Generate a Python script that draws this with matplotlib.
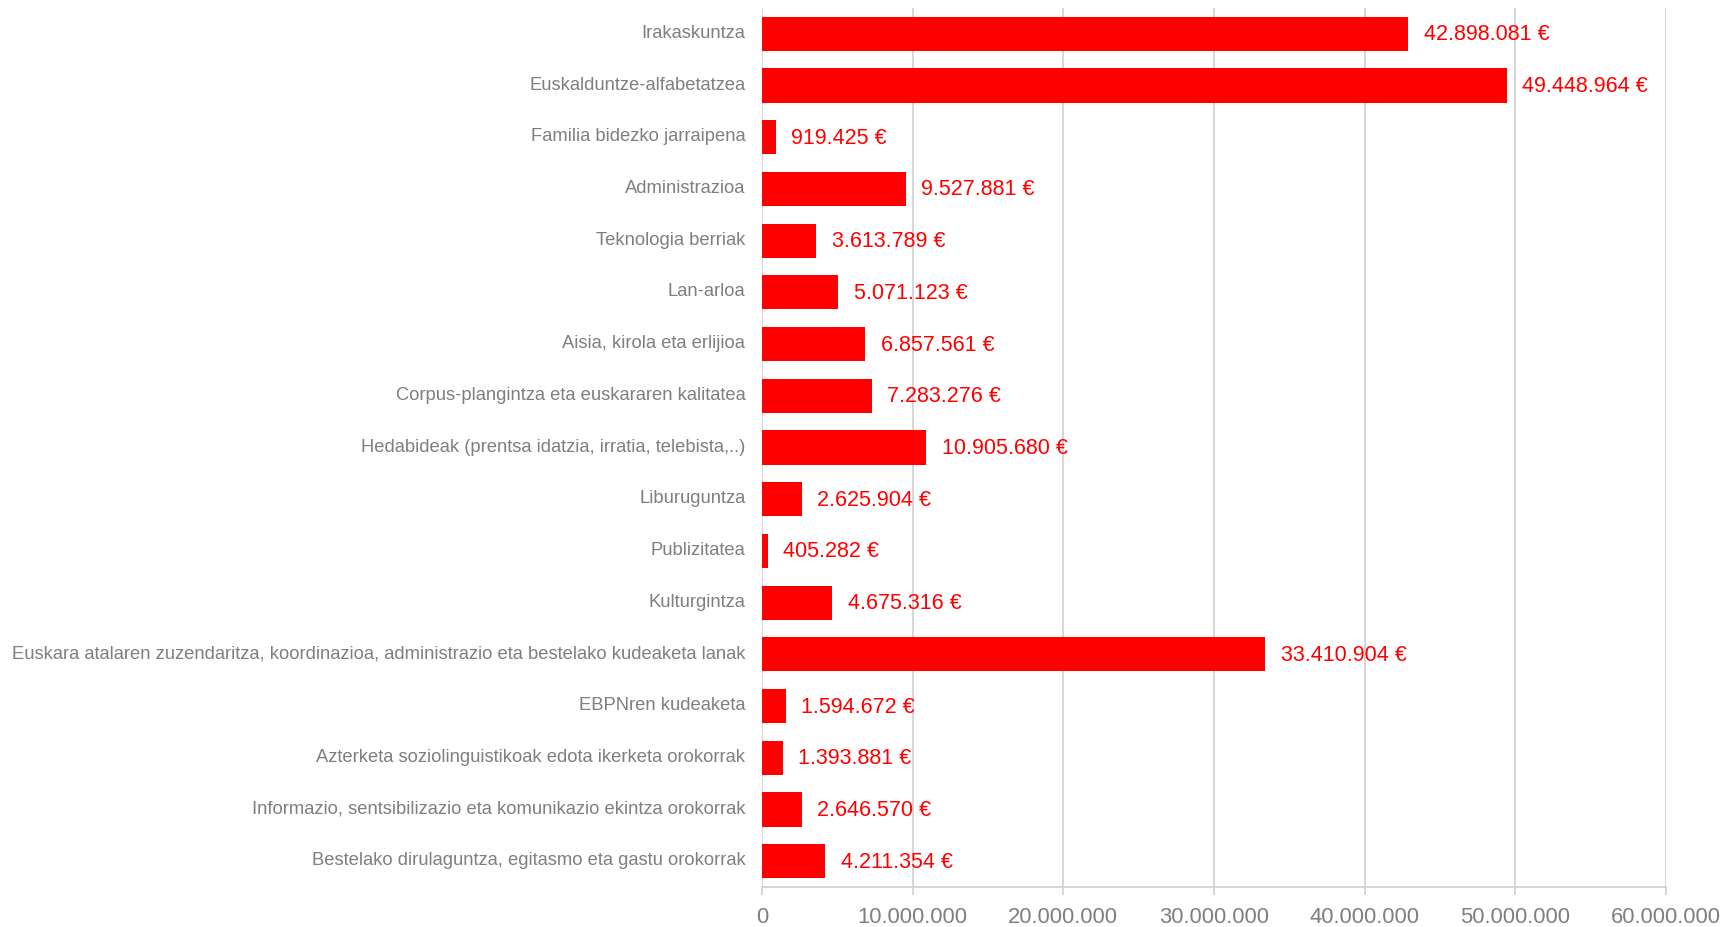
import matplotlib.pyplot as plt
from matplotlib.ticker import FuncFormatter

plt.rcParams['font.family'] = ['Liberation Sans', 'DejaVu Sans']

# categories and amounts (euro), top to bottom as in the chart
categories = [
    'Irakaskuntza',
    'Euskalduntze-alfabetatzea',
    'Familia bidezko jarraipena',
    'Administrazioa',
    'Teknologia berriak',
    'Lan-arloa',
    'Aisia, kirola eta erlijioa',
    'Corpus-plangintza eta euskararen kalitatea',
    'Hedabideak (prentsa idatzia, irratia, telebista,..)',
    'Liburuguntza',
    'Publizitatea',
    'Kulturgintza',
    'Euskara atalaren zuzendaritza, koordinazioa, administrazio eta bestelako kudeaketa lanak',
    'EBPNren kudeaketa',
    'Azterketa soziolinguistikoak edota ikerketa orokorrak',
    'Informazio, sentsibilizazio eta komunikazio ekintza orokorrak',
    'Bestelako dirulaguntza, egitasmo eta gastu orokorrak',
]
amounts = [42898081, 49448964, 919425, 9527881, 3613789, 5071123, 6857561,
           7283276, 10905680, 2625904, 405282, 4675316, 33410904, 1594672,
           1393881, 2646570, 4211354]
x_ticks = [0, 10000000, 20000000, 30000000, 40000000, 50000000, 60000000]


def dots(v):
    return f'{int(v):,}'.replace(',', '.')


fig = plt.figure(figsize=(17.24, 9.28), dpi=100)
ax = fig.add_axes([0.442, 0.0431, 0.5244, 0.9472])

pos = list(range(len(categories)))
ax.barh(pos, amounts, height=0.66, color='#ff0000', zorder=3)

for p, v in zip(pos, amounts):
    ax.annotate(dots(v) + ' €', xy=(v, p), xytext=(11, 0),
                textcoords='offset points', va='center', ha='left',
                color='#ff0000', fontsize=15.5, zorder=4)

# category names, drawn as text so they can sit slightly above bar centre
ax.set_yticks(pos)
ax.set_yticklabels([])
ytrans = ax.get_yaxis_transform()
for p, name in zip(pos, categories):
    ax.annotate(name, xy=(0, p), xycoords=ytrans, xytext=(-12, 2.5),
                textcoords='offset points', ha='right', va='center_baseline',
                fontsize=13.2, color='#7f7f7f', annotation_clip=False)

ax.set_ylim(len(categories) - 0.5, -0.5)
ax.set_xlim(0, 60000000)
ax.set_xticks(x_ticks)
ax.xaxis.set_major_formatter(FuncFormatter(lambda v, _: dots(v)))
ax.tick_params(axis='x', labelsize=15.8, colors='#7f7f7f', length=6,
               color='#d0d0d0', width=1.2, pad=8)
ax.tick_params(axis='y', length=0)

ax.grid(axis='x', color='#d0d0d0', linewidth=1.2, zorder=0)
for s in ['top', 'right', 'left']:
    ax.spines[s].set_visible(False)
ax.spines['bottom'].set_color('#d0d0d0')
ax.spines['bottom'].set_linewidth(1.2)

fig.savefig('out.png', dpi=100)
